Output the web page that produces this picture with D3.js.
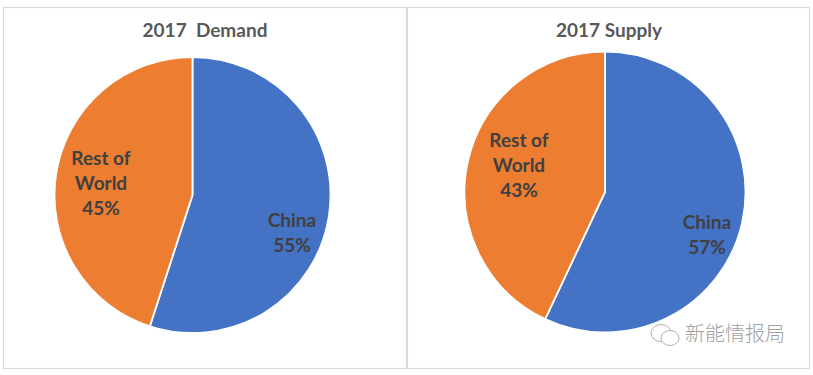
<!DOCTYPE html>
<html>
<head>
<meta charset="utf-8">
<script src="https://cdnjs.cloudflare.com/ajax/libs/d3/7.0.4/d3.min.js"></script>
<style>
  body { margin: 0; background: #fff; }
  svg { display: block; }
  text { font-family: Lato, sans-serif; font-weight: 700; fill: #404040; }
</style>
</head>
<body>
<script>
const categories = ["China", "Rest of World"];
const demandValues = [55, 45];
const supplyValues = [57, 43];
const titles = ["2017  Demand", "2017 Supply"];
const colors = ["#4472c4", "#ed7d31"];
const watermark = "新能情报局";

const w = 813;
const h = 375;

const svg = d3.select("body").append("svg")
  .attr("width", w)
  .attr("height", h);

const color = d3.scaleOrdinal().domain(categories).range(colors);
const pie = d3.pie().sort(null);

// panel frames
svg.selectAll("rect.panel")
  .data([[3.5, 403], [407.5, 402]])
  .enter()
  .append("rect")
  .attr("class", "panel")
  .attr("x", d => d[0])
  .attr("y", 7.5)
  .attr("width", d => d[1])
  .attr("height", 361)
  .attr("fill", "#fff")
  .attr("stroke", "#d9d9d9")
  .attr("stroke-width", 1.2);

function drawPie(values, title, cx, cy, r, titleX, labels) {
  const g = svg.append("g").attr("transform", "translate(" + cx + "," + cy + ")");
  const arc = d3.arc().innerRadius(0).outerRadius(r);

  g.selectAll("path")
    .data(pie(values))
    .enter()
    .append("path")
    .attr("d", arc)
    .attr("fill", (d, i) => color(categories[i]))
    .attr("stroke", "#fff")
    .attr("stroke-width", 1.8);

  svg.append("text")
    .attr("x", titleX)
    .attr("y", 37)
    .attr("text-anchor", "middle")
    .attr("font-size", 19)
    .style("white-space", "pre")
    .style("fill", "#595959")
    .text(title);

  labels.forEach((l, i) => {
    const lines = l.lines.concat(values[i] + "%");
    const t = svg.append("text")
      .attr("text-anchor", "middle")
      .attr("font-size", 19);
    lines.forEach((s, j) => {
      t.append("tspan")
        .attr("x", l.x)
        .attr("y", l.y + j * 25)
        .text(s);
    });
  });
}

drawPie(demandValues, titles[0], 192.5, 195, 138, 205, [
  { lines: ["China"], x: 292, y: 227 },
  { lines: ["Rest of"
  , "World"], x: 101, y: 165 }
]);
drawPie(supplyValues, titles[1], 605, 192, 140.5, 609, [
  { lines: ["China"], x: 707, y: 229 },
  { lines: ["Rest of", "World"], x: 519, y: 147 }
]);

// watermark, wechat icon
const wm = svg.append("g")
  .attr("fill", "#fff")
  .attr("stroke", "#b0b0b0")
  .attr("stroke-width", 1);
wm.append("ellipse").attr("cx", 661).attr("cy", 333).attr("rx", 10).attr("ry", 8.5);
wm.append("ellipse").attr("cx", 670).attr("cy", 338).attr("rx", 9).attr("ry", 7.5);

svg.append("text")
  .attr("x", 685)
  .attr("y", 341)
  .attr("font-size", 20)
  .style("font-family", "'Noto Sans CJK SC', sans-serif")
  .style("font-weight", 300)
  .style("fill", "#a0a0a0")
  .text(watermark);
</script>
</body>
</html>
